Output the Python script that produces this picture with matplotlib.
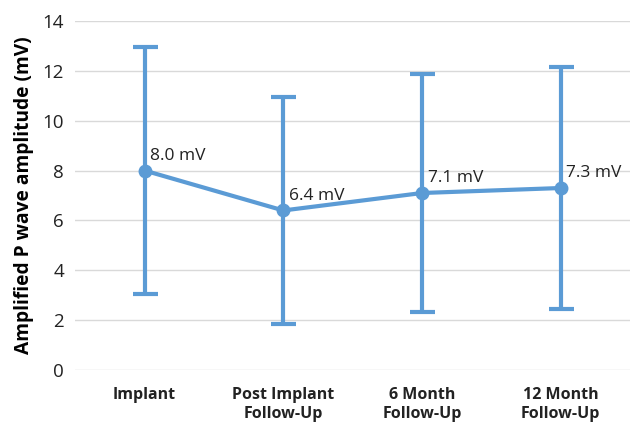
import matplotlib
matplotlib.use("Agg")
from matplotlib import pyplot as plt
import numpy as np

categories = ["Implant", "Post Implant\nFollow-Up", "6 Month\nFollow-Up", "12 Month\nFollow-Up"]
means = [8.0, 6.4, 7.1, 7.3]
errors = [4.95, 4.55, 4.75, 4.85]
labels = ["8.0 mV", "6.4 mV", "7.1 mV", "7.3 mV"]

BLUE = "#5b9bd5"
plt.rcParams["font.family"] = ["Open Sans", "DejaVu Sans"]

fig = plt.figure(figsize=(6.32, 4.25), dpi=100)
ax = fig.add_axes([0.119, 0.129, 0.878, 0.822])

xs = np.arange(len(categories))
ax.errorbar(xs, means, yerr=errors, color=BLUE, linewidth=3, elinewidth=3,
            capsize=9, capthick=3, marker="o", markersize=9, zorder=10)

for x, y, lab in zip(xs, means, labels):
    ax.annotate(lab, (x, y), xytext=(4, 5), textcoords="offset points",
                ha="left", va="bottom", fontsize=12.5, color="#222222", zorder=20)

ax.set_xlim(-0.5, 3.5)
ax.set_ylim(0, 14)
ax.set_yticks(range(0, 15, 2))
ax.set_xticks(xs)
ax.set_xticklabels(categories, fontweight="bold", fontsize=11.5, linespacing=1.25)
ax.tick_params(axis="both", length=0, colors="#222222")
ax.tick_params(axis="y", labelsize=13.5, pad=8)
ax.tick_params(axis="x", pad=12)
ax.grid(axis="y", color="#d9d9d9", linewidth=1)
ax.set_axisbelow(True)
for s in ax.spines.values():
    s.set_visible(False)
ax.set_ylabel("Amplified P wave amplitude (mV)", fontsize=13.8, fontweight="bold",
              labelpad=6)

fig.savefig("out.png", dpi=100)
